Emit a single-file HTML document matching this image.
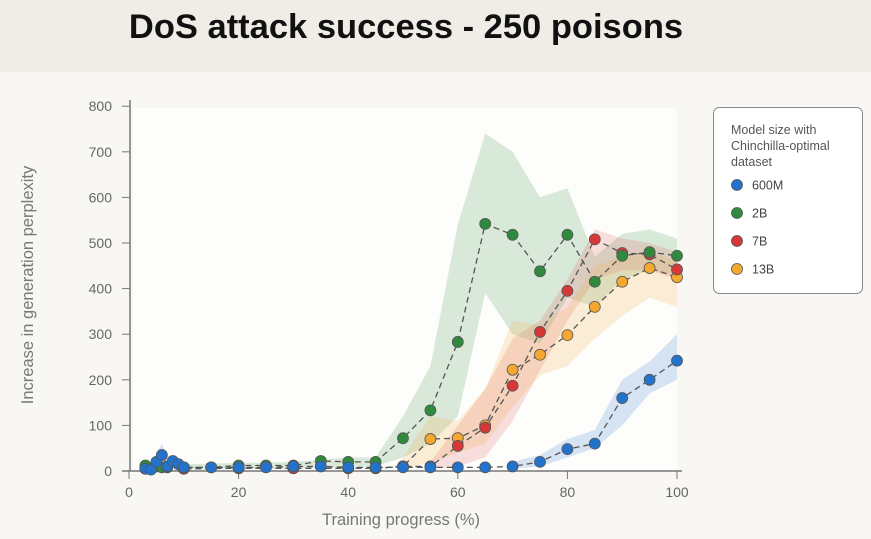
<!DOCTYPE html>
<html><head><meta charset="utf-8"><style>
body{margin:0;width:871px;height:539px;background:#f8f7f3;overflow:hidden;font-family:"Liberation Sans",sans-serif}
.top{position:absolute;left:0;top:0;width:871px;height:72px;background:#efede5}
h1{position:absolute;left:0;width:812px;top:8px;margin:0;text-align:center;font-size:34.5px;font-weight:bold;color:#111}
svg{position:absolute;left:0;top:0}
</style></head><body>
<div class="top"></div>
<h1>DoS attack success - 250 poisons</h1>
<svg id="s" width="871" height="539" font-family="Liberation Sans, sans-serif"></svg>
<script>
const s=document.getElementById('s');let h='';
const X=t=>129+5.48*t, Y=v=>471-0.456*v;
h+=`<rect x="133" y="108" width="544" height="363" fill="#fdfdfb"/>`;
h+=`<line x1="130" y1="100" x2="130" y2="471" stroke="#777" stroke-width="1.5"/><line x1="122" y1="471" x2="682" y2="471" stroke="#777" stroke-width="1.5"/>`;
for(let v=0;v<=800;v+=100){h+=`<line x1="122" y1="${Y(v)}" x2="130" y2="${Y(v)}" stroke="#777"/><text x="112" y="${Y(v)+5}" text-anchor="end" font-size="14" fill="#666">${v}</text>`;}
for(let t=0;t<=100;t+=20){h+=`<line x1="${X(t)}" y1="471" x2="${X(t)}" y2="479" stroke="#777"/><text x="${X(t)}" y="497" text-anchor="middle" font-size="14" fill="#666">${t}</text>`;}
h+=`<text x="401" y="525" text-anchor="middle" font-size="16.5" fill="#777">Training progress (%)</text>`;
h+=`<text transform="translate(33,285) rotate(-90)" text-anchor="middle" font-size="16.5" fill="#777">Increase in generation perplexity</text>`;
function band(pts,lo,hi,c){let p=pts.map((t,i)=>X(t)+','+Y(hi[i])).join(' ')+' '+pts.slice().reverse().map((t,i)=>X(t)+','+Y(lo[lo.length-1-i])).join(' ');h+=`<polygon points="${p}" fill="${c}" opacity="0.2"/>`;}
const B=[[3,5],[4,3],[5,20],[6,35],[7,10],[8,22],[9,15],[10,8],[15,8],[20,8],[25,8],[30,10],[35,10],[40,8],[45,8],[50,8],[55,8],[60,8],[65,8],[70,10],[75,20],[80,48],[85,60],[90,160],[95,200],[100,242]];
const G=[[3,12],[5,10],[6,8],[7,8],[10,8],[15,8],[20,12],[25,12],[30,12],[35,22],[40,20],[45,20],[50,72],[55,133],[60,283],[65,542],[70,518],[75,438],[80,518],[85,415],[90,472],[95,480],[100,472]];
const R=[[3,5],[10,5],[20,6],[30,6],[40,6],[45,6],[50,10],[55,10],[60,55],[65,95],[70,187],[75,305],[80,395],[85,508],[90,478],[95,475],[100,442]];
const O=[[3,5],[10,5],[20,6],[30,6],[40,6],[45,6],[50,10],[55,70],[60,72],[65,100],[70,222],[75,255],[80,298],[85,360],[90,415],[95,445],[100,425]];
band([45,50,55,60,65,70,75,80,85,90,95,100],[10,30,60,120,390,300,280,380,360,420,440,430],[30,120,230,540,740,700,600,620,470,520,530,510],'#4a9a55');
band([55,60,65,70,75,80,85,90,95,100],[5,10,30,110,220,330,420,440,440,420],[20,100,180,290,330,420,530,510,500,480],'#e06060');
band([50,55,60,65,70,75,80,85,90,95,100],[5,20,40,60,140,210,230,290,340,380,360],[30,120,110,180,330,320,360,450,470,480,460],'#f5a840');
band([70,75,80,85,90,95,100],[5,10,30,50,100,170,200],[20,35,70,90,200,240,300],'#3c7fd0');
band([4,5,6,7,8],[0,5,10,5,0],[10,40,60,30,10],'#3c7fd0');
band([10,30,40,45],[3,5,10,10],[15,20,30,30],'#4a9a55');
function ser(d,c){h+=`<polyline points="${d.map(p=>X(p[0])+','+Y(p[1])).join(' ')}" fill="none" stroke="#555" stroke-width="1.3" stroke-dasharray="6,4"/>`;
d.forEach(p=>h+=`<circle cx="${X(p[0])}" cy="${Y(p[1])}" r="5.5" fill="${c}" stroke="#555" stroke-width="0.8"/>`);}
ser(O,'#f5a830');ser(R,'#d63838');ser(G,'#2f8a3e');ser(B,'#2372cc');
h+=`<rect x="713.5" y="107.5" width="149" height="186" rx="6" fill="#fff" stroke="#888"/>`;
['Model size with','Chinchilla-optimal','dataset'].forEach((t,i)=>h+=`<text x="731" y="${134+i*16}" font-size="12.5" fill="#555">${t}</text>`);
[['600M','#2372cc'],['2B','#2f8a3e'],['7B','#d63838'],['13B','#f5a830']].forEach((e,i)=>{const y=185+i*28;h+=`<circle cx="737" cy="${y}" r="5.5" fill="${e[1]}" stroke="#555" stroke-width="0.8"/><text x="752" y="${y+4.5}" font-size="12.5" fill="#444">${e[0]}</text>`;});
s.innerHTML=h;
</script>
</body></html>
